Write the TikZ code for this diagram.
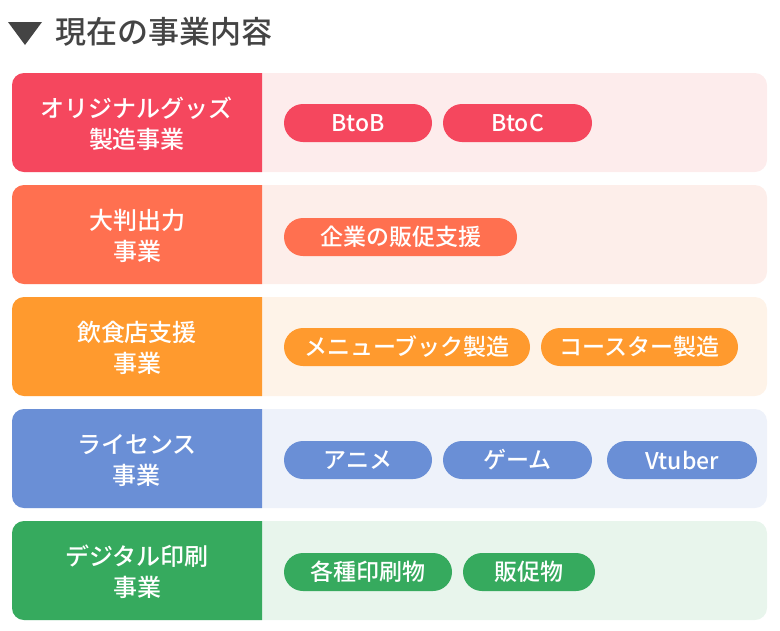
\documentclass[tikz,border=0pt]{standalone}
\usepackage{fontspec}
\setmainfont{Noto Sans CJK JP Medium}[BoldFont={Noto Sans CJK JP Bold}]
\definecolor{c1}{HTML}{F5475E}\definecolor{b1}{HTML}{FDECEC}
\definecolor{c2}{HTML}{FF7050}\definecolor{b2}{HTML}{FDEEEA}
\definecolor{c3}{HTML}{FF9A2E}\definecolor{b3}{HTML}{FEF3E8}
\definecolor{c4}{HTML}{6A8FD6}\definecolor{b4}{HTML}{EEF2FA}
\definecolor{c5}{HTML}{36AA5E}\definecolor{b5}{HTML}{E8F5EC}
\definecolor{tg}{HTML}{444444}
\tikzset{
 lbl/.style={text=white,font=\fontsize{24}{31}\selectfont,align=center},
 pill/.style={fill=#1,text=white,rounded corners=19,minimum height=38,font=\fontsize{23}{25}\selectfont,inner sep=0},
}
\begin{document}
\begin{tikzpicture}[x=1pt,y=-1pt]
\useasboundingbox (0,0) rectangle (780,630);
\fill[tg] (8,22) -- (42,22) -- (25,45) -- cycle;
\node[anchor=west,text=tg,font=\fontsize{31}{33}\selectfont] (title) at (52,32) {現在の事業内容};
\foreach \i/\y in {1/73,2/185,3/297,4/409,5/521}{
 \fill[b\i, rounded corners=12] (12,\y) rectangle (767,\y+99);
 \fill[c\i] (262,\y) [rounded corners=12]-- (12,\y) -- (12,\y+99) [sharp corners]-- (262,\y+99) -- cycle;
}
\node[lbl] (l1) at (137,124) {オリジナルグッズ\\製造事業};
\node[lbl] (l2) at (137,236) {大判出力\\事業};
\node[lbl] (l3) at (137,348) {飲食店支援\\事業};
\node[lbl] (l4) at (137,460) {ライセンス\\事業};
\node[lbl] (l5) at (137,572) {デジタル印刷\\事業};
\node[pill=c1,minimum width=148] (p11) at (358,123) {BtoB};
\node[pill=c1,minimum width=149] (p12) at (517.5,123) {BtoC};
\node[pill=c2,minimum width=233] (p21) at (400.5,237) {企業の販促支援};
\node[pill=c3,minimum width=246] (p31) at (407,347) {メニューブック製造};
\node[pill=c3,minimum width=197] (p32) at (639.5,347) {コースター製造};
\node[pill=c4,minimum width=148] (p41) at (358,460) {アニメ};
\node[pill=c4,minimum width=149] (p42) at (517.5,460) {ゲーム};
\node[pill=c4,minimum width=150] (p43) at (682,460) {Vtuber};
\node[pill=c5,minimum width=168] (p51) at (368,572) {各種印刷物};
\node[pill=c5,minimum width=132] (p52) at (529,572) {販促物};
\end{tikzpicture}
\end{document}
